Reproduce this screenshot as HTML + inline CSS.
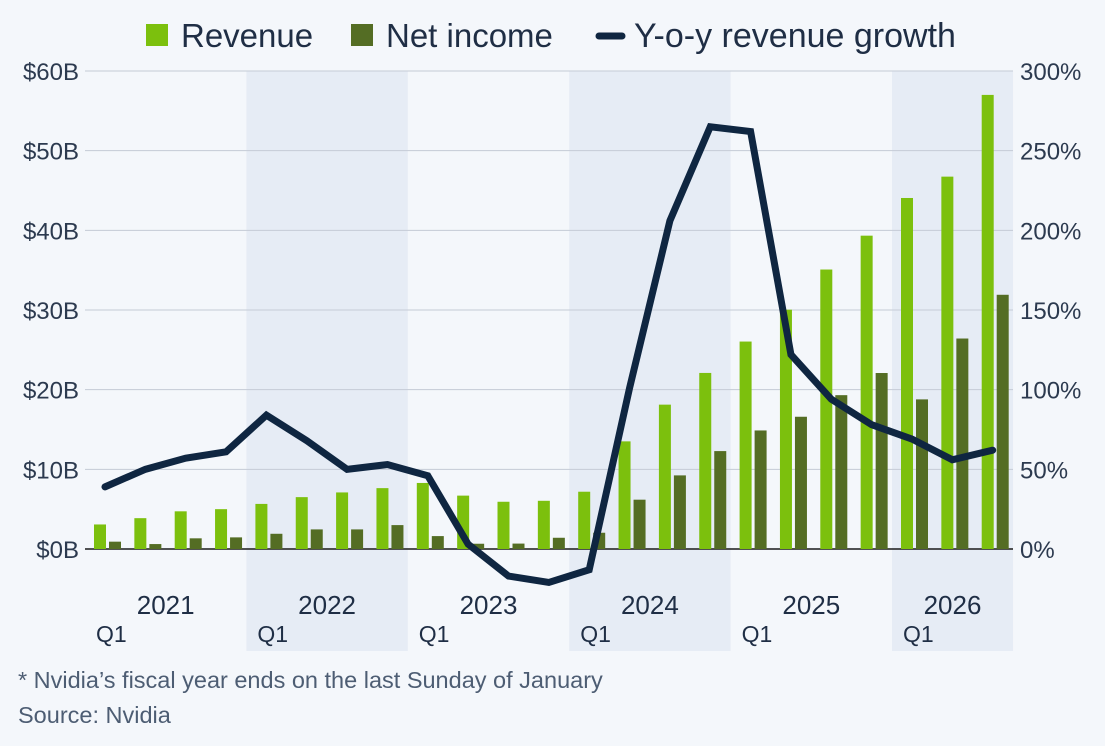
<!DOCTYPE html>
<html><head><meta charset="utf-8"><style>
body{margin:0;background:#f4f7fb;font-family:"Liberation Sans",sans-serif;}
svg text{font-family:"Liberation Sans",sans-serif;}
</style></head><body>
<svg id="c" width="1105" height="741" xmlns="http://www.w3.org/2000/svg"></svg>
<script>
const categories=["2021Q1","2021Q2","2021Q3","2021Q4","2022Q1","2022Q2","2022Q3","2022Q4","2023Q1","2023Q2","2023Q3","2023Q4","2024Q1","2024Q2","2024Q3","2024Q4","2025Q1","2025Q2","2025Q3","2025Q4","2026Q1","2026Q2","2026Q3"];
const revenue=[3.08,3.87,4.73,5.0,5.66,6.51,7.10,7.64,8.29,6.70,5.93,6.05,7.19,13.51,18.12,22.10,26.04,30.04,35.08,39.33,44.06,46.74,57.0];
const netIncome=[0.92,0.62,1.34,1.46,1.91,2.46,2.46,3.00,1.62,0.66,0.68,1.41,2.04,6.19,9.24,12.29,14.88,16.6,19.31,22.09,18.78,26.42,31.91];
const growth=[39,50,57,61,84,68,50,53,46,3,-17,-21,-13,101,206,265,262,122,94,78,69,56,62];
const years=["2021","2022","2023","2024","2025","2026"];
const leftTicks=["$0B","$10B","$20B","$30B","$40B","$50B","$60B"];
const rightTicks=["0%","50%","100%","150%","200%","250%","300%"];

const svg=document.getElementById('c');const NS="http://www.w3.org/2000/svg";
function el(t,a,p){const e=document.createElementNS(NS,t);for(const k in a)e.setAttribute(k,a[k]);(p||svg).appendChild(e);return e;}
const x0=85,qw=40.35,y0=549,yTop=71;
const yL=v=>y0-(v/60)*(y0-yTop);
const yR=v=>y0-(v/300)*(y0-yTop);
const qx=i=>x0+i*qw;
years.forEach((y,i)=>{
  if(i%2===1){const b=el('rect',{x:qx(i*4),y:yTop,width:Math.min(4,categories.length-i*4)*qw,height:580,fill:'#e6ecf5'});
  }
});
leftTicks.forEach((t,i)=>{
  const y=yL(i*10);
  const g=el('line',{x1:x0,x2:1013,y1:y,y2:y,stroke:i?'#c5cbd6':'#1a1a1a','stroke-width':i?1:1.5});
  
  const a=el('text',{x:79,y:y+9,'text-anchor':'end','font-size':24,fill:'#2c3a4f'});a.textContent=t;
  
  const b=el('text',{x:1020,y:yR(i*50)+9,'font-size':24,fill:'#2c3a4f'});b.textContent=rightTicks[i];
  
});
categories.forEach((c,i)=>{
  const r=el('rect',{x:qx(i)+9,y:yL(revenue[i]),width:12,height:y0-yL(revenue[i]),fill:'#7cc00d'});
  
  const n=el('rect',{x:qx(i)+24,y:yL(netIncome[i]),width:12,height:y0-yL(netIncome[i]),fill:'#546d24'});
  
});
const pts=growth.map((g,i)=>(qx(i)+20)+','+yR(g)).join(' ');
const l=el('polyline',{points:pts,fill:'none',stroke:'#0f2641','stroke-width':7,'stroke-linejoin':'miter','stroke-linecap':'round'});

years.forEach((y,i)=>{
  const n=Math.min(4,categories.length-i*4);
  const t=el('text',{x:qx(i*4)+n*qw/2,y:614,'text-anchor':'middle','font-size':26,fill:'#1f2e45'});t.textContent=y;
  
  const q=el('text',{x:qx(i*4)+11,y:642,'font-size':23,fill:'#1f2e45'});q.textContent='Q1';
  
});
const lg=el('g',{});
let r1=el('rect',{x:146,y:24,width:22,height:22,fill:'#7cc00d'},lg);
let t1=el('text',{x:181,y:47,'font-size':33,fill:'#1f2e45'},lg);t1.textContent='Revenue';
let r2=el('rect',{x:351,y:24,width:22,height:22,fill:'#546d24'},lg);
let t2=el('text',{x:386,y:47,'font-size':33,fill:'#1f2e45'},lg);t2.textContent='Net income';
let r3=el('line',{x1:599,x2:622,y1:36,y2:36,stroke:'#0f2641','stroke-width':7,'stroke-linecap':'round'},lg);
let t3=el('text',{x:634,y:47,'font-size':34,fill:'#1f2e45'},lg);t3.textContent='Y-o-y revenue growth';
let f1=el('text',{x:18,y:688,'font-size':23.5,fill:'#4d5d73'});f1.textContent='* Nvidia’s fiscal year ends on the last Sunday of January';
let f2=el('text',{x:18,y:723,'font-size':23.5,fill:'#4d5d73'});f2.textContent='Source: Nvidia';
</script>
</body></html>
